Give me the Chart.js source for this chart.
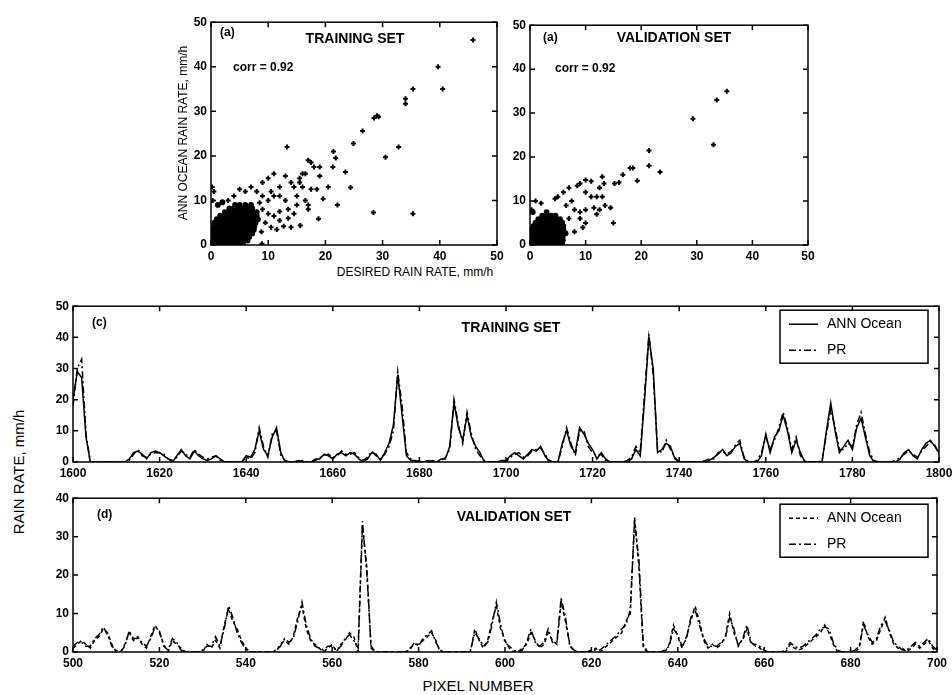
<!DOCTYPE html>
<html>
<head>
<meta charset="utf-8">
<title>ANN Ocean rain rate vs PR</title>
<script src="https://cdn.jsdelivr.net/npm/chart.js@4.4.1/dist/chart.umd.min.js"></script>
<style>
    html, body { margin: 0; padding: 0; background: #fff; overflow: hidden; }
    body { width: 952px; height: 695px; position: relative; font-family: "Liberation Sans", Arial, sans-serif; color: #000; }
    canvas { position: absolute; }
    .lbl { position: absolute; white-space: nowrap; line-height: 1; transform: translate(0, -50%); }
    .c { transform: translate(-50%, -50%); }
    .rot { transform: translate(-50%, -50%) rotate(-90deg); }
    .b { font-weight: bold; }
</style>
</head>
<body>
<canvas id="scatter-train"></canvas>
<canvas id="scatter-valid"></canvas>
<canvas id="series-train"></canvas>
<canvas id="series-valid"></canvas>

<div class="lbl rot" style="left:183px; top:133px; font-size:12px;">ANN OCEAN RAIN RATE, mm/h</div>
<div class="lbl c" style="left:415px; top:272px; font-size:12px;">DESIRED RAIN RATE, mm/h</div>
<div class="lbl rot" style="left:18px; top:472px; font-size:15px;">RAIN RATE, mm/h</div>
<div class="lbl c" style="left:478px; top:685px; font-size:15px;">PIXEL NUMBER</div>

<div class="lbl b" style="left:220px; top:32px; font-size:12px;">(a)</div>
<div class="lbl c b" style="left:355px; top:38px; font-size:14px;">TRAINING SET</div>
<div class="lbl b" style="left:233px; top:67px; font-size:12px;">corr = 0.92</div>

<div class="lbl b" style="left:543px; top:37px; font-size:12px;">(a)</div>
<div class="lbl c b" style="left:674px; top:37px; font-size:14px;">VALIDATION SET</div>
<div class="lbl b" style="left:555px; top:68px; font-size:12px;">corr = 0.92</div>

<div class="lbl b" style="left:92px; top:322px; font-size:12px;">(c)</div>
<div class="lbl c b" style="left:511px; top:327px; font-size:14px;">TRAINING SET</div>

<div class="lbl b" style="left:97px; top:514px; font-size:12px;">(d)</div>
<div class="lbl c b" style="left:514px; top:516px; font-size:14px;">VALIDATION SET</div>

<script>
// ---- scatter data: [desired rain rate, ANN ocean rain rate] ----
const trainScatter = [
    [45.8, 46], [39.7, 40], [40.5, 35], [35.3, 35], [34, 32.8], [34, 31.7],
    [29, 29], [28.5, 28.5], [29.3, 28.8], [26.5, 25.6], [24.9, 22.8], [32.8, 22],
    [13.3, 22], [21.4, 21], [21.8, 19.5], [21.3, 17.5], [30.5, 19.7], [23.5, 16.4],
    [24.4, 12.9], [19.6, 10.4], [22.1, 9], [28.4, 7.3], [35.3, 7], [18.8, 5.9],
    [15.6, 4.4], [12.7, 4.2], [11.5, 3.5], [8.9, 0.3],
    [17, 19], [17.5, 18.5], [18, 17.5], [19, 17.5], [16.5, 16], [16, 16],
    [15.5, 15], [19, 15.5], [11, 16], [10, 15], [9, 14], [13, 15.5], [14, 14],
    [12, 13], [14.5, 13], [15.5, 14], [16, 13], [17.5, 12.5], [18.5, 12.5],
    [20.5, 13], [15, 11], [16.5, 10], [17, 9], [13, 10], [12, 11], [11, 11],
    [10.5, 12], [10, 10], [9, 11], [8, 12], [7, 13], [6, 12], [5, 12.5], [4, 11],
    [3, 10], [2, 9.5], [13.5, 8], [14.5, 7], [15, 9], [12, 7.5], [11, 6.5],
    [10, 7], [9.5, 5], [10.5, 4], [12, 5.5], [13.5, 6], [17, 8], [14, 4],
    [0.3, 10], [0.5, 12], [0.2, 13], [8.5, 9.5], [9, 8], [8.8, 3]
];
const trainBlob = [
    [0.3, 0.3], [1, 0.3], [1.8, 0.3], [2.6, 0.3], [3.4, 0.3], [4.2, 0.3], [5, 0.3], [5.6, 0.3],
    [0.3, 1], [1, 1], [1.8, 1], [2.6, 1], [3.4, 1], [4.2, 1], [5, 1], [5.8, 1], [6.4, 1],
    [0.3, 1.8], [1.1, 1.8], [1.9, 1.8], [2.7, 1.8], [3.5, 1.8], [4.3, 1.8], [5.1, 1.8], [5.9, 1.8], [6.7, 1.8],
    [0.3, 2.6], [1, 2.6], [1.8, 2.6], [2.6, 2.6], [3.4, 2.6], [4.2, 2.6], [5, 2.6], [5.8, 2.6], [6.6, 2.6], [7.2, 2.6],
    [0.3, 3.4], [1.1, 3.4], [1.9, 3.4], [2.7, 3.4], [3.5, 3.4], [4.3, 3.4], [5.1, 3.4], [5.9, 3.4], [6.7, 3.4], [7.5, 3.4],
    [0.5, 4.2], [1.2, 4.2], [2, 4.2], [2.8, 4.2], [3.6, 4.2], [4.4, 4.2], [5.2, 4.2], [6, 4.2], [6.8, 4.2], [7.6, 4.2],
    [0.6, 5], [1.4, 5], [2.2, 5], [3, 5], [3.8, 5], [4.6, 5], [5.4, 5], [6.2, 5], [7, 5], [7.8, 5],
    [1, 5.8], [1.8, 5.8], [2.6, 5.8], [3.4, 5.8], [4.2, 5.8], [5, 5.8], [5.8, 5.8], [6.6, 5.8], [7.4, 5.8], [8.2, 5.8],
    [1.6, 6.6], [2.4, 6.6], [3.2, 6.6], [4, 6.6], [4.8, 6.6], [5.6, 6.6], [6.4, 6.6], [7.2, 6.6], [8, 6.6],
    [2.4, 7.4], [3.2, 7.4], [4, 7.4], [4.8, 7.4], [5.6, 7.4], [6.4, 7.4], [7.2, 7.4], [8, 7.4],
    [3.2, 8.2], [4, 8.2], [4.8, 8.2], [5.6, 8.2], [6.4, 8.2], [7.2, 8.2],
    [4.2, 9], [5, 9], [6, 9], [7, 9], [1.2, 9], [2, 9.6]
];
const validScatter = [
    [35.4, 35], [33.6, 33], [29.3, 28.7], [33, 22.8], [21.4, 21.5], [21.4, 18],
    [23.4, 16.6], [18, 17.5], [18.5, 17.5], [19.3, 14.6], [16.7, 16], [15.2, 14],
    [16, 14.2], [13, 15.5], [13.3, 14], [12.5, 13], [11, 14.5], [10, 14.8], [9, 14],
    [8.5, 13.5], [7, 13], [6, 12], [5, 11], [4.5, 10.5], [2, 9.5], [1, 10],
    [10, 12], [11, 11], [12, 11], [13, 11], [13.5, 9], [14.5, 8.5], [12.5, 8],
    [10, 8], [9, 7.5], [8, 8], [9, 6], [10, 5], [9.5, 4], [7, 6], [8, 3], [15, 5],
    [11.5, 8.5], [12, 7], [0.3, 8], [7.5, 10], [6.5, 9]
];
const validBlob = [
    [0.3, 0.3], [1.1, 0.3], [1.9, 0.3], [2.7, 0.3], [3.5, 0.3], [4.3, 0.3], [5.1, 0.3], [5.8, 0.3],
    [0.3, 1.1], [1.1, 1.1], [1.9, 1.1], [2.7, 1.1], [3.5, 1.1], [4.3, 1.1], [5.1, 1.1], [5.9, 1.1],
    [0.3, 1.9], [1.1, 1.9], [1.9, 1.9], [2.7, 1.9], [3.5, 1.9], [4.3, 1.9], [5.1, 1.9], [5.9, 1.9],
    [0.3, 2.7], [1.1, 2.7], [1.9, 2.7], [2.7, 2.7], [3.5, 2.7], [4.3, 2.7], [5.1, 2.7], [5.9, 2.7], [6.4, 2.7],
    [0.4, 3.5], [1.2, 3.5], [2, 3.5], [2.8, 3.5], [3.6, 3.5], [4.4, 3.5], [5.2, 3.5], [6, 3.5],
    [0.6, 4.3], [1.4, 4.3], [2.2, 4.3], [3, 4.3], [3.8, 4.3], [4.6, 4.3], [5.4, 4.3], [6, 4.3],
    [1, 5.1], [1.8, 5.1], [2.6, 5.1], [3.4, 5.1], [4.2, 5.1], [5, 5.1], [5.8, 5.1],
    [1.5, 5.9], [2.3, 5.9], [3.1, 5.9], [3.9, 5.9], [4.7, 5.9], [5.4, 5.9],
    [2.2, 6.7], [3, 6.7], [3.8, 6.7], [4.6, 6.7], [0.5, 7.5], [3, 7.5]
];

// ---- time series: rain rate per pixel number ----
const trainStart = 1600;
const trainAnn = [
    20, 29, 27, 8, 0, 0, 0, 0, 0, 0,
    0, 0, 0, 1, 3, 3.5, 2.5, 1, 3, 3.5,
    3, 2, 1, 0, 2, 4, 2, 1, 3.5, 2,
    1, 0.5, 1, 2, 1, 0, 0, 0, 0, 0,
    2, 1.5, 4, 10, 4, 2, 8, 11, 3, 0,
    0, 0, 0.5, 0, 0, 0, 1, 1, 2.5, 2,
    1, 2.5, 3, 2, 3, 2.5, 1, 0, 1, 3,
    2.5, 0.5, 3, 6, 12, 28, 15, 2, 0.5, 0.5,
    0, 0, 0.5, 0, 0, 1, 1, 5, 19, 11,
    7, 15, 8, 5, 3, 0, 0, 0, 0, 0.5,
    0.5, 2, 3, 2, 1, 2.5, 4, 3.5, 5, 2,
    0, 0, 0, 6, 10, 5, 3, 11, 9, 6,
    4, 1, 3, 1, 0, 0, 0, 0, 0, 1,
    4, 2, 20, 40, 30, 3, 4, 6, 5, 1,
    0, 0, 0, 0, 0, 0, 0, 0.5, 1.5, 2.5,
    4, 2, 3, 5, 6, 1, 0, 0, 0, 2,
    9, 3, 8, 10, 15, 10, 3, 7, 3, 0,
    0, 0, 0, 0, 10, 19, 10, 3, 5, 7,
    4, 11, 14, 8, 2, 0, 0, 0, 0, 0,
    0, 1, 3, 4, 2, 1, 4, 6, 7, 5, 3
];
const trainPr = [
    18, 30, 33, 9, 0, 0, 0, 0, 0, 0,
    0, 0, 0, 0.5, 2.5, 4, 2, 1.5, 2.5, 3,
    3, 2.5, 1, 0.5, 1.5, 3.5, 2.5, 1.5, 4, 2.5,
    1.5, 1, 1.5, 2, 0.5, 0, 0, 0, 0, 0,
    1.5, 1, 3, 11, 5, 1.5, 9, 10, 2, 0.5,
    0, 0, 0, 0.5, 0, 0, 0.5, 1.5, 2, 2.5,
    1.5, 2, 3.5, 2.5, 2.5, 3, 1.5, 0.5, 1.5, 3.5,
    2, 1, 2.5, 5, 10, 29, 18, 3, 1, 0,
    0.5, 0, 0, 0.5, 0, 0.5, 1.5, 4, 20, 12,
    6, 16, 9, 4, 2, 0.5, 0, 0, 0, 0,
    0, 1.5, 2.5, 3, 1.5, 2, 3.5, 4, 4.5, 2.5,
    0.5, 0, 0, 5, 11, 6, 2, 10, 10, 5,
    3, 2, 2.5, 0.5, 0, 0, 0, 0, 0.5, 1.5,
    5, 3, 22, 41, 28, 4, 3, 7, 4, 1.5,
    0, 0, 0, 0, 0, 0, 0.5, 1, 1, 3,
    3.5, 2.5, 3.5, 5.5, 7, 1.5, 0, 0, 0.5, 3,
    8, 4, 7, 11, 16, 11, 4, 8, 2, 0.5,
    0, 0, 0, 0.5, 9, 17, 11, 4, 4, 6,
    5, 12, 16, 9, 3, 0.5, 0, 0, 0, 0,
    0.5, 1.5, 2.5, 3.5, 2.5, 1.5, 3.5, 5, 6.5, 5.5, 2.5
];
const validStart = 500;
const validAnn = [
    1, 2, 3, 2, 1, 3, 4, 6, 5, 2,
    0, 0, 2, 5, 3, 4, 2, 1, 4, 7,
    5, 2, 0, 3, 2, 1, 0, 0, 0, 0,
    0, 2, 1, 3, 1, 7, 11, 8, 6, 3,
    1, 0, 0, 0, 0, 0, 0, 0, 2, 3,
    2, 4, 9, 12, 6, 3, 2, 1, 0, 1,
    2, 0, 2, 3, 5, 4, 0, 33, 22, 1,
    0, 0, 0, 0, 0, 0, 0, 0, 1, 2,
    2, 3, 4, 5, 3, 0, 0, 0, 0, 0,
    0, 0, 0, 6, 3, 1, 3, 8, 12, 6,
    3, 1, 0, 0, 1, 2, 5, 3, 1, 2,
    5, 3, 2, 13, 8, 2, 0, 0, 0, 0,
    0, 1, 0, 1, 2, 3, 4, 5, 8, 10,
    35, 22, 1, 0, 0, 0, 0, 0, 2, 7,
    4, 1, 4, 8, 12, 8, 3, 1, 2, 1,
    2, 4, 10, 5, 2, 3, 6, 2, 2, 1,
    0, 0, 0, 0, 0, 0, 2, 1, 0.5, 1,
    2, 3, 4, 5, 7, 5, 2, 0, 0, 0,
    0, 0, 1, 8, 4, 2, 3, 6, 9, 5,
    2, 1, 1, 0, 1, 2, 1, 2, 3, 1, 0
];
const validPr = [
    1.5, 2.5, 2.5, 1.5, 1.5, 3.5, 4.5, 6.5, 4.5, 1.5,
    0.5, 0, 1.5, 5.5, 3.5, 3.5, 2.5, 1.5, 3.5, 6.5,
    5.5, 1.5, 0.5, 3.5, 2.5, 0.5, 0, 0, 0, 0,
    0.5, 1.5, 1.5, 4, 1.5, 6, 12, 9, 5, 2.5,
    0.5, 0, 0, 0, 0, 0, 0, 0.5, 1.5, 3.5,
    2.5, 3.5, 8, 13, 7, 3.5, 1.5, 1, 0.5, 1.5,
    1.5, 0.5, 1.5, 3.5, 4.5, 3, 1, 34, 21, 1.5,
    0, 0, 0, 0, 0, 0, 0, 0, 0.5, 2.5,
    1.5, 3.5, 4.5, 5.5, 2.5, 0.5, 0, 0, 0, 0,
    0, 0, 0.5, 5, 3.5, 1.5, 2.5, 7, 13, 7,
    2.5, 1.5, 0.5, 0, 0.5, 2.5, 6, 2.5, 1.5, 2.5,
    6, 2.5, 2.5, 14, 9, 1.5, 0.5, 0, 0, 0,
    0.5, 0.5, 0.5, 1.5, 2.5, 3.5, 4.5, 6, 7, 11,
    34, 24, 2, 0, 0, 0, 0, 0.5, 1.5, 6,
    4.5, 1.5, 3.5, 9, 11, 7, 3.5, 1.5, 1.5, 1.5,
    2.5, 3.5, 9, 6, 1.5, 3.5, 7, 2.5, 1.5, 1.5,
    0.5, 0, 0, 0, 0, 0.5, 2.5, 1.5, 1, 1.5,
    2.5, 3.5, 4.5, 6, 6.5, 6, 2.5, 0.5, 0, 0,
    0, 0.5, 1.5, 7, 4.5, 2.5, 3.5, 7, 8, 5.5,
    2.5, 1.5, 0.5, 0.5, 1.5, 2.5, 1.5, 2.5, 3.5, 1.5, 0.5
];
const seriesNames = ['ANN Ocean', 'PR'];

(function() {
    'use strict';

    const FONT = "'Liberation Sans', Arial, sans-serif";
    const Y_AXIS_W = 32;
    const X_AXIS_H = 20;
    const PAD_TOP = 8;
    const PAD_RIGHT = 18;

    // box round the plot area with inward ticks on all four sides
    const framePlugin = {
        id: 'frame',
        afterDatasetsDraw(chart) {
            const { ctx, chartArea: a } = chart;
            const x = chart.scales.x;
            const y = chart.scales.y;
            ctx.save();
            ctx.strokeStyle = '#000';
            ctx.lineWidth = 1.5;
            ctx.strokeRect(a.left, a.top, a.right - a.left, a.bottom - a.top);
            ctx.beginPath();
            x.ticks.forEach(t => {
                const px = x.getPixelForValue(t.value);
                ctx.moveTo(px, a.bottom); ctx.lineTo(px, a.bottom - 5);
                ctx.moveTo(px, a.top); ctx.lineTo(px, a.top + 5);
            });
            y.ticks.forEach(t => {
                const py = y.getPixelForValue(t.value);
                ctx.moveTo(a.left, py); ctx.lineTo(a.left + 5, py);
                ctx.moveTo(a.right, py); ctx.lineTo(a.right - 5, py);
            });
            ctx.stroke();
            ctx.restore();
        }
    };

    // framed legend in the upper right corner of the line panels
    const boxLegendPlugin = {
        id: 'boxLegend',
        afterDraw(chart, args, opts) {
            if (!opts || !opts.show) return;
            const { ctx, chartArea: a } = chart;
            const w = 148, h = 53;
            const left = a.right - opts.right - w;
            const top = a.top + opts.top;
            ctx.save();
            ctx.fillStyle = '#fff';
            ctx.fillRect(left, top, w, h);
            ctx.strokeStyle = '#000';
            ctx.lineWidth = 1.5;
            ctx.strokeRect(left, top, w, h);
            ctx.font = '14px ' + FONT;
            ctx.textBaseline = 'middle';
            chart.data.datasets.forEach((ds, i) => {
                const cy = top + 14 + i * 26;
                ctx.beginPath();
                ctx.setLineDash(ds.borderDash || []);
                ctx.lineWidth = 1.5;
                ctx.moveTo(left + 9, cy);
                ctx.lineTo(left + 38, cy);
                ctx.stroke();
                ctx.setLineDash([]);
                ctx.fillStyle = '#000';
                ctx.fillText(ds.label, left + 47, cy);
            });
            ctx.restore();
        }
    };

    function placeCanvas(id, area) {
        const canvas = document.getElementById(id);
        const width = (area.right - area.left) + Y_AXIS_W + PAD_RIGHT;
        const height = (area.bottom - area.top) + PAD_TOP + X_AXIS_H;
        canvas.width = width;
        canvas.height = height;
        canvas.style.width = width + 'px';
        canvas.style.height = height + 'px';
        canvas.style.left = (area.left - Y_AXIS_W) + 'px';
        canvas.style.top = (area.top - PAD_TOP) + 'px';
        return canvas.getContext('2d');
    }

    function axis(min, max, step) {
        return {
            type: 'linear',
            min: min,
            max: max,
            grid: { display: false, drawTicks: false },
            border: { display: false },
            ticks: {
                stepSize: step,
                padding: 4,
                color: '#000',
                font: { family: FONT, size: 12, weight: 'bold' },
                callback: value => String(value)
            }
        };
    }

    function fixedScales(xAxis, yAxis) {
        xAxis.afterFit = s => { s.height = X_AXIS_H; };
        yAxis.afterFit = s => { s.width = Y_AXIS_W; };
        return { x: xAxis, y: yAxis };
    }

    function toXY(pairs) {
        return pairs.map(p => ({ x: p[0], y: p[1] }));
    }

    function toSeries(start, values) {
        return values.map((v, i) => ({ x: start + i, y: v }));
    }

    const baseOptions = {
        responsive: false,
        animation: false,
        layout: { padding: { top: PAD_TOP, right: PAD_RIGHT, left: 0, bottom: 0 } },
        plugins: { legend: { display: false }, tooltip: { enabled: false } }
    };

    function scatterChart(id, area, outliers, blob) {
        const ctx = placeCanvas(id, area);
        return new Chart(ctx, {
            type: 'scatter',
            data: {
                datasets: [
                    {
                        data: toXY(blob),
                        pointStyle: 'circle',
                        pointRadius: 2.9,
                        backgroundColor: '#000',
                        borderWidth: 0
                    },
                    {
                        data: toXY(outliers),
                        pointStyle: 'cross',
                        pointRadius: 2.5,
                        borderColor: '#000',
                        borderWidth: 2
                    }
                ]
            },
            options: Object.assign({}, baseOptions, {
                scales: fixedScales(axis(0, 50, 10), axis(0, 50, 10))
            }),
            plugins: [framePlugin]
        });
    }

    function seriesChart(id, area, start, ann, pr, annDash, yMax, legendPos) {
        const ctx = placeCanvas(id, area);
        const xMax = start + ann.length - 1;
        return new Chart(ctx, {
            type: 'line',
            data: {
                datasets: [
                    {
                        label: seriesNames[0],
                        data: toSeries(start, ann),
                        borderColor: '#000',
                        borderWidth: 1.5,
                        borderDash: annDash,
                        pointRadius: 0,
                        tension: 0
                    },
                    {
                        label: seriesNames[1],
                        data: toSeries(start, pr),
                        borderColor: '#000',
                        borderWidth: 1.5,
                        borderDash: [7, 3, 2, 3],
                        pointRadius: 0,
                        tension: 0
                    }
                ]
            },
            options: Object.assign({}, baseOptions, {
                plugins: {
                    legend: { display: false },
                    tooltip: { enabled: false },
                    boxLegend: Object.assign({ show: true }, legendPos)
                },
                scales: fixedScales(axis(start, xMax, 20), axis(0, yMax, 10))
            }),
            plugins: [framePlugin, boxLegendPlugin]
        });
    }

    function init() {
        scatterChart('scatter-train', { left: 211, top: 19, right: 497, bottom: 245 }, trainScatter, trainBlob);
        scatterChart('scatter-valid', { left: 530, top: 22, right: 808, bottom: 245 }, validScatter, validBlob);
        seriesChart('series-train', { left: 73, top: 303, right: 939, bottom: 462 },
            trainStart, trainAnn, trainPr, [], 50, { right: 11, top: 4 });
        seriesChart('series-valid', { left: 73, top: 495, right: 937, bottom: 652 },
            validStart, validAnn, validPr, [4, 3], 40, { right: 9, top: 6 });
    }

    if (document.readyState === 'loading') {
        document.addEventListener('DOMContentLoaded', init);
    } else {
        init();
    }
})();
</script>
</body>
</html>
